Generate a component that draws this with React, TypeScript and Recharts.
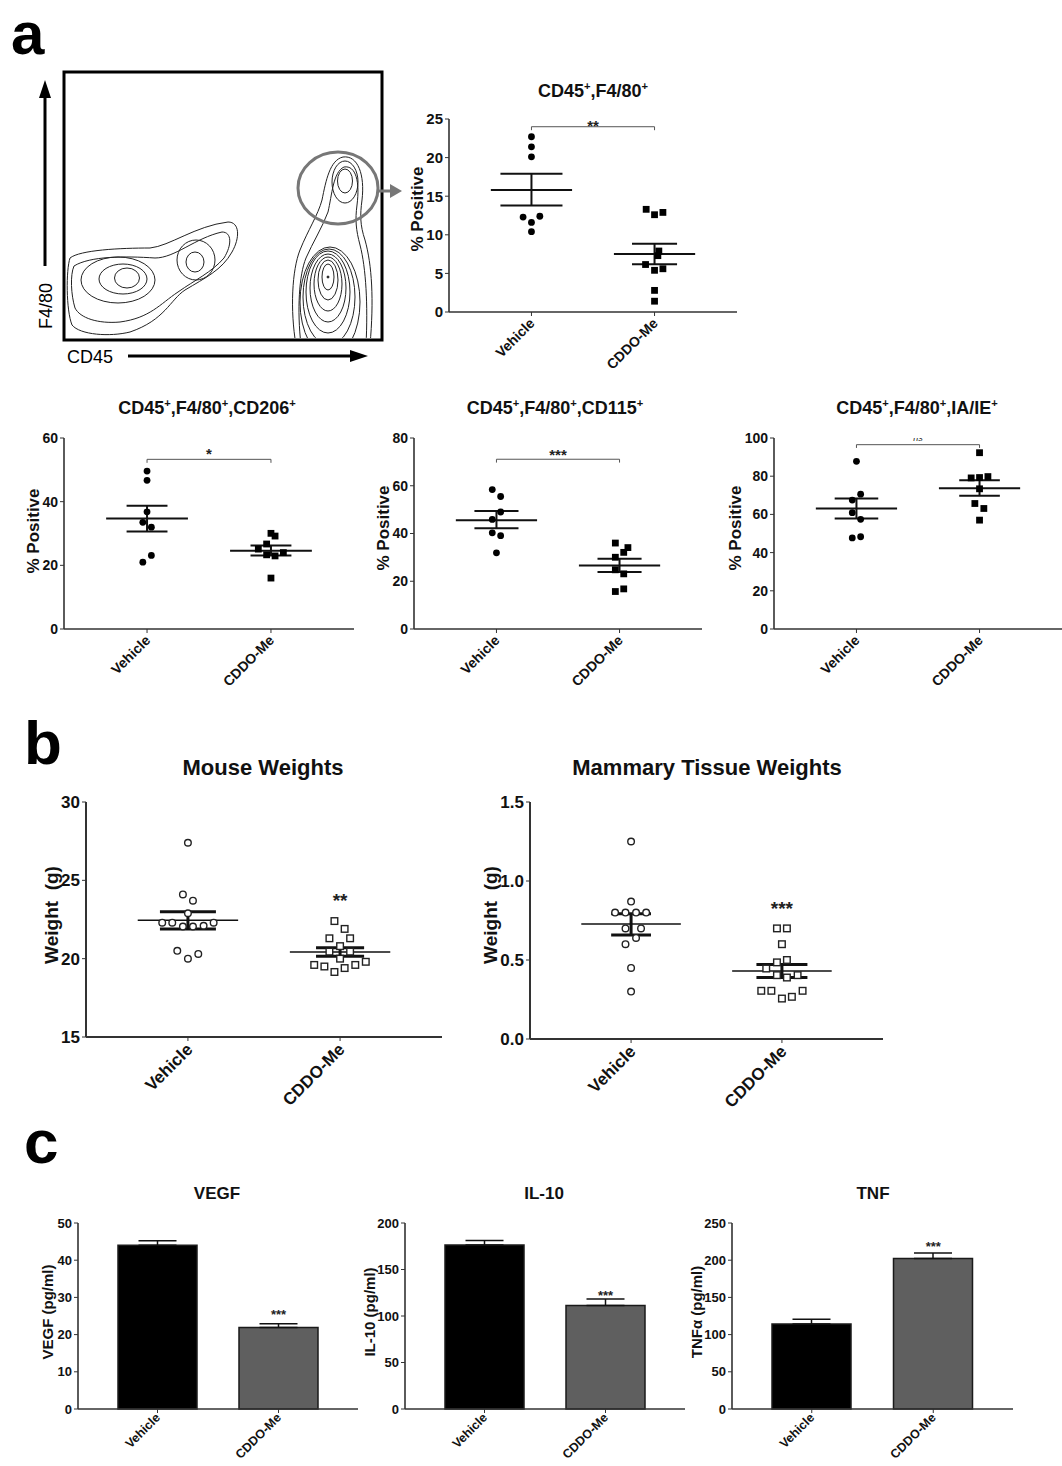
import React from 'react';
import {
  ScatterChart,
  Scatter,
  XAxis,
  YAxis,
  ReferenceLine,
  ComposedChart,
  Bar,
  ErrorBar,
  Cell,
} from 'recharts';

const FONT = '"Liberation Sans", Arial, Helvetica, sans-serif';
const GROUPS = ['Vehicle', 'CDDO-Me'];

// ---------- a: CD45+,F4/80+ ----------
const f480Ticks = [0, 5, 10, 15, 20, 25];
const f480Veh = [22.7, 21.4, 20.1, 12.3, 12.4, 11.6, 10.4];
const f480VehJit = [0, 0, 0, -0.068, 0.068, 0, 0];
const f480Cddo = [13.3, 12.6, 12.9, 7.9, 7.3, 6.15, 5.4, 5.6, 2.8, 1.4];
const f480CddoJit = [-0.068, 0, 0.068, 0.035, 0.027, -0.073, 0, 0.068, 0, 0];
const f480Mean = [15.8, 7.5];
const f480Hi = [17.9, 8.85];
const f480Lo = [13.8, 6.2];

// ---------- a: CD206 ----------
const cd206Ticks = [0, 20, 40, 60];
const cd206Veh = [49.6, 46.7, 36.8, 33.5, 32.0, 23.1, 21.0];
const cd206VehJit = [0, 0, 0, -0.034, 0.035, 0.035, -0.034];
const cd206Cddo = [30.05, 29.2, 26.7, 25.1, 24.0, 23.3, 22.96, 16.0];
const cd206CddoJit = [0, 0.033, -0.035, -0.102, 0.1, -0.035, 0.033, 0];
const cd206Mean = [34.7, 24.6];
const cd206Hi = [38.7, 26.2];
const cd206Lo = [30.6, 23.1];

// ---------- a: CD115 ----------
const cd115Ticks = [0, 20, 40, 60, 80];
const cd115Veh = [58.4, 55.5, 49.0, 45.9, 40.3, 39.1, 31.9];
const cd115VehJit = [-0.034, 0.034, 0.034, -0.034, -0.034, 0.034, 0];
const cd115Cddo = [36.0, 34.1, 32.1, 30.05, 24.8, 23.1, 16.8, 15.7];
const cd115CddoJit = [-0.034, 0.068, 0.034, -0.034, -0.034, 0.034, 0.034, -0.034];
const cd115Mean = [45.6, 26.6];
const cd115Hi = [49.4, 29.4];
const cd115Lo = [42.2, 23.9];

// ---------- a: IA/IE ----------
const iaTicks = [0, 20, 40, 60, 80, 100];
const iaVeh = [87.8, 70.6, 67.5, 60.9, 57.4, 47.7, 48.3];
const iaVehJit = [0, 0.034, -0.034, -0.034, 0.034, -0.034, 0.034];
const iaCddo = [92.3, 79.1, 79.3, 79.8, 73.4, 65.7, 63.1, 57.0];
const iaCddoJit = [0, -0.068, 0, 0.068, 0, -0.038, 0.035, 0];
const iaMean = [63.1, 73.7];
const iaHi = [68.3, 77.9];
const iaLo = [57.9, 69.7];

// ---------- b: Mouse weights ----------
const mouseTicks = [15, 20, 25, 30];
const mouseVeh = [27.4, 24.1, 23.7, 22.9, 22.3, 22.3, 22.05, 22.05, 22.1, 22.3, 20.5, 20.3, 20.0];
const mouseVehJit = [0, -0.033, 0.033, 0, -0.169, -0.103, -0.033, 0.033, 0.103, 0.169, -0.07, 0.068, 0];
const mouseCddo = [22.4, 21.9, 21.3, 21.3, 20.8, 20.45, 20.45, 20.0, 19.6, 19.5, 19.15, 19.4, 19.6, 19.8];
const mouseCddoJit = [-0.037, 0.03, -0.07, 0.066, 0, -0.07, 0.066, 0, -0.17, -0.103, -0.037, 0.03, 0.1, 0.169];
const mouseMean = [22.45, 20.43];
const mouseHi = [23.0, 20.7];
const mouseLo = [21.9, 20.15];

// ---------- b: Mammary tissue weights ----------
const mamTicks = [0, 0.5, 1.0, 1.5];
const mamVeh = [1.25, 0.87, 0.8, 0.8, 0.8, 0.8, 0.7, 0.7, 0.64, 0.6, 0.45, 0.3];
const mamVehJit = [0, 0, -0.106, -0.037, 0.033, 0.1, -0.037, 0.066, 0.033, -0.037, 0, 0];
const mamCddo = [0.7, 0.7, 0.6, 0.485, 0.5, 0.446, 0.404, 0.389, 0.404, 0.305, 0.305, 0.256, 0.267, 0.305];
const mamCddoJit = [-0.033, 0.033, 0, -0.033, 0.033, -0.104, -0.033, 0.033, 0.104, -0.137, -0.07, 0, 0.066, 0.137];
const mamMean = [0.728, 0.43];
const mamHi = [0.793, 0.472];
const mamLo = [0.658, 0.389];

// ---------- c: cytokines ----------
const vegfTicks = [0, 10, 20, 30, 40, 50];
const vegfMean = [44.0, 21.9];
const vegfSem = [1.2, 1.0];
const il10Ticks = [0, 50, 100, 150, 200];
const il10Mean = [176.4, 111.4];
const il10Sem = [4.7, 6.8];
const tnfTicks = [0, 50, 100, 150, 200, 250];
const tnfMean = [114.3, 202.2];
const tnfSem = [6.2, 7.6];

// significance marks (value coordinates)
const f480Sig = { y: 24.0, drop: 0.45, label: '**', labelY: 24.6 };
const cd206Sig = { y: 53.3, drop: 1.1, label: '*', labelY: 56.1 };
const cd115Sig = { y: 71.1, drop: 1.4, label: '***', labelY: 74.4 };
const iaSig = { y: 96.5, drop: 1.7, label: 'ns', labelY: 99.6 };
const mouseStar = { label: '**', y: 24.0 };
const mamStar = { label: '***', y: 0.855 };
const vegfStar = [null, 26.2];
const il10Star = [null, 125];
const tnfStar = [null, 222];

const XH = 30; // x-axis band height

// ---------- helpers ----------
const CatTick = (props: any) => {
  const { x, y, payload, fontSize = 13, lift = 1 } = props;
  const v = payload.value;
  const label = typeof v === 'number' ? GROUPS[Math.round(v)] : v;
  return (
    <g transform={`translate(${x - 3},${y - lift}) rotate(-45)`}>
      <text x={0} y={0} dy="0.72em" textAnchor="end" fontSize={fontSize} fontWeight={700} fontFamily={FONT} fill="#111">
        {label}
      </text>
    </g>
  );
};

const makeTextShape = (label: string, fs: number, italic = false) => (p: any) => {
  if (p == null || p.cy == null || isNaN(p.cy)) return <g />;
  const base = italic ? 0.27 : 0.57;
  return (
    <text
      x={p.cx}
      y={p.cy + base * fs}
      textAnchor="middle"
      fontSize={fs}
      fontWeight={italic ? 400 : 700}
      fontStyle={italic ? 'italic' : 'normal'}
      fontFamily={FONT}
      fill="#222"
    >
      {label}
    </text>
  );
};

type Grp = { values: number[]; jitter: number[]; mean: number; hi: number; lo: number; cap: number };

type PanelProps = {
  left: number;
  top: number;
  width: number;
  height: number;
  margin: { top: number; right: number; bottom: number; left: number };
  yWidth: number;
  yDomain: [number, number];
  yTicks: number[];
  groups: Grp[];
  open?: boolean;
  tickFont: number;
  catFont: number;
  markerR: number;
  meanW: number;
  capW: number;
  sig?: { y: number; drop: number; label: string; labelY: number };
  sigFont?: number;
  star?: { label: string; y: number };
  starFont?: number;
  fmt?: (v: number) => string;
  axisW?: number;
};

function ScatterPanel(p: PanelProps) {
  const series = p.groups.map((g, gi) => g.values.map((v, i) => ({ x: gi + g.jitter[i], y: v })));
  const axisStroke = { stroke: '#333', strokeWidth: p.axisW ?? 1.6 };
  const circle = (s: any) =>
    p.open ? (
      <circle cx={s.cx} cy={s.cy} r={p.markerR} fill="#fff" stroke="#222" strokeWidth={1.4} />
    ) : (
      <circle cx={s.cx} cy={s.cy} r={p.markerR} fill="#000" />
    );
  const square = (s: any) =>
    p.open ? (
      <rect x={s.cx - p.markerR} y={s.cy - p.markerR} width={p.markerR * 2} height={p.markerR * 2} fill="#fff" stroke="#222" strokeWidth={1.4} />
    ) : (
      <rect x={s.cx - p.markerR} y={s.cy - p.markerR} width={p.markerR * 2} height={p.markerR * 2} fill="#000" />
    );
  const lines: React.ReactNode[] = [];
  p.groups.forEach((g, gi) => {
    lines.push(
      <ReferenceLine key={`m${gi}`} ifOverflow="visible" segment={[{ x: gi - 0.33, y: g.mean }, { x: gi + 0.33, y: g.mean }]} stroke="#111" strokeWidth={p.meanW} />,
      <ReferenceLine key={`h${gi}`} ifOverflow="visible" segment={[{ x: gi - g.cap, y: g.hi }, { x: gi + g.cap, y: g.hi }]} stroke="#111" strokeWidth={p.capW} />,
      <ReferenceLine key={`l${gi}`} ifOverflow="visible" segment={[{ x: gi - g.cap, y: g.lo }, { x: gi + g.cap, y: g.lo }]} stroke="#111" strokeWidth={p.capW} />,
      <ReferenceLine key={`v${gi}`} ifOverflow="visible" segment={[{ x: gi, y: g.lo }, { x: gi, y: g.hi }]} stroke="#111" strokeWidth={p.capW} />
    );
  });
  if (p.sig) {
    const s = p.sig;
    lines.push(
      <ReferenceLine key="b0" ifOverflow="visible" segment={[{ x: 0, y: s.y }, { x: 1, y: s.y }]} stroke="#555" strokeWidth={1} />,
      <ReferenceLine key="b1" ifOverflow="visible" segment={[{ x: 0, y: s.y }, { x: 0, y: s.y - s.drop }]} stroke="#555" strokeWidth={1} />,
      <ReferenceLine key="b2" ifOverflow="visible" segment={[{ x: 1, y: s.y }, { x: 1, y: s.y - s.drop }]} stroke="#555" strokeWidth={1} />
    );
  }
  return (
    <div style={{ position: 'absolute', left: p.left, top: p.top }}>
      <ScatterChart width={p.width} height={p.height} margin={p.margin}>
        <XAxis
          type="number"
          dataKey="x"
          domain={[-0.67, 1.67]}
          ticks={[0, 1]}
          interval={0}
          height={XH}
          allowDataOverflow
          tickSize={4}
          axisLine={axisStroke}
          tickLine={{ stroke: '#333' }}
          tick={<CatTick fontSize={p.catFont} />}
        />
        <YAxis
          type="number"
          dataKey="y"
          domain={p.yDomain}
          ticks={p.yTicks}
          interval={0}
          allowDataOverflow
          width={p.yWidth}
          tickSize={4}
          axisLine={axisStroke}
          tickLine={{ stroke: '#333' }}
          tick={{ fontSize: p.tickFont, fontWeight: 700, fill: '#111', fontFamily: FONT }}
          tickFormatter={p.fmt}
        />
        {lines}
        <Scatter data={series[0]} shape={circle} isAnimationActive={false} />
        <Scatter data={series[1]} shape={square} isAnimationActive={false} />
        {p.sig && (
          <Scatter
            data={[{ x: 0.5, y: p.sig.labelY }]}
            shape={makeTextShape(p.sig.label, p.sig.label === 'ns' ? 9 : p.sigFont ?? 15, p.sig.label === 'ns')}
            isAnimationActive={false}
          />
        )}
        {p.star && (
          <Scatter data={[{ x: 1, y: p.star.y }]} shape={makeTextShape(p.star.label, p.starFont ?? 19)} isAnimationActive={false} />
        )}
      </ScatterChart>
    </div>
  );
}

type BarProps = {
  left: number;
  top: number;
  width: number;
  height: number;
  margin: { top: number; right: number; bottom: number; left: number };
  yWidth: number;
  yTicks: number[];
  means: number[];
  sems: number[];
  stars: (number | null)[];
};

function BarPanel(p: BarProps) {
  const data = GROUPS.map((g, i) => ({ name: g, value: p.means[i], err: [0, p.sems[i]], star: p.stars[i] }));
  const fills = ['#000000', '#5f5f5f'];
  return (
    <div style={{ position: 'absolute', left: p.left, top: p.top }}>
      <ComposedChart width={p.width} height={p.height} margin={p.margin} data={data}>
        <XAxis
          dataKey="name"
          type="category"
          padding={{ left: 19, right: 19 }}
          interval={0}
          height={XH}
          tickSize={4}
          axisLine={{ stroke: '#333', strokeWidth: 1.6 }}
          tickLine={{ stroke: '#333' }}
          tick={<CatTick fontSize={12.5} lift={3} />}
        />
        <YAxis
          type="number"
          domain={[p.yTicks[0], p.yTicks[p.yTicks.length - 1]]}
          ticks={p.yTicks}
          interval={0}
          width={p.yWidth}
          tickSize={4}
          axisLine={{ stroke: '#333', strokeWidth: 1.6 }}
          tickLine={{ stroke: '#333' }}
          tick={{ fontSize: 13, fontWeight: 700, fill: '#111', fontFamily: FONT }}
        />
        <Bar dataKey="value" barSize={79} stroke="#1a1a1a" strokeWidth={1.5} isAnimationActive={false}>
          {data.map((d, i) => (
            <Cell key={d.name} fill={fills[i]} />
          ))}
          <ErrorBar dataKey="err" width={19} stroke="#111" strokeWidth={1.5} direction="y" />
        </Bar>
        <Scatter dataKey="star" shape={makeTextShape('***', 13)} isAnimationActive={false} />
      </ComposedChart>
    </div>
  );
}

function grp(values: number[], jitter: number[], mean: number[], hi: number[], lo: number[], caps: number[], i: number): Grp {
  return { values, jitter, mean: mean[i], hi: hi[i], lo: lo[i], cap: caps[i] };
}

// ---------- overlay: panel letters, titles, axis labels, flow plot ----------
const Title = ({ x, y, parts, fs }: { x: number; y: number; parts: string[]; fs: number }) => (
  <text x={x} y={y} textAnchor="middle" fontFamily={FONT} fontWeight={700} fontSize={fs} fill="#111">
    {parts.map((t, i) =>
      t === '+' ? (
        <tspan key={i} dy={-7} fontSize={fs * 0.62}>
          +
        </tspan>
      ) : (
        <tspan key={i} dy={i > 0 && parts[i - 1] === '+' ? 7 : 0}>
          {t}
        </tspan>
      )
    )}
  </text>
);

const YLabel = ({ x, y, text, fs }: { x: number; y: number; text: string; fs: number }) => (
  <text
    transform={`translate(${x},${y}) rotate(-90)`}
    textAnchor="middle"
    dy="0.36em"
    fontFamily={FONT}
    fontWeight={700}
    fontSize={fs}
    fill="#111"
    style={{ whiteSpace: 'pre' }}
  >
    {text}
  </text>
);

// flow-cytometry contour sketch (illustration)
const leftLobes: [number, number, number, number][] = [
  [118, 280, 37, 23],
  [123, 279, 24, 15],
  [127, 278, 12.5, 10],
  [196, 260, 19, 20],
  [195, 262, 9, 10],
];
const rightStack: [number, number, number, number][] = [
  [328, 277, 6, 13],
  [328, 280, 10, 20],
  [328, 284, 14, 27],
  [328, 288, 18, 34],
  [328, 292, 22, 41],
  [329, 297, 26, 48],
  [330, 302, 30, 55],
  [345, 181, 7.5, 12],
  [345, 182, 13, 21],
];

function FlowPlot() {
  return (
    <g>
      <defs>
        <clipPath id="flowclip">
          <rect x={66} y={74} width={314} height={264} />
        </clipPath>
      </defs>
      <g clipPath="url(#flowclip)" fill="none" stroke="#222" strokeWidth={1}>
        <path d="M 70,258 C 80,250 120,248 150,248 C 170,246 195,226 228,222 C 240,222 240,238 232,252 C 222,270 205,278 185,290 C 170,300 165,320 130,332 C 110,337 80,335 72,325 C 66,310 66,270 70,258 Z" />
        <path d="M 74,266 C 90,256 125,256 155,258 C 175,258 195,238 222,232 C 232,232 232,245 224,258 C 212,272 195,280 178,292 C 160,304 150,318 120,322 C 98,324 80,318 75,308 C 71,295 70,275 74,266 Z" />
        {leftLobes.map(([cx, cy, rx, ry], i) => (
          <ellipse key={`l${i}`} cx={cx} cy={cy} rx={rx} ry={ry} />
        ))}
        <path d="M 296,345 C 290,310 292,270 300,250 C 308,230 318,215 322,200 C 326,180 330,160 343,157 C 358,155 365,175 362,200 C 360,215 360,225 365,240 C 372,265 374,300 370,345" />
        <path d="M 301,345 C 297,310 299,275 306,258 C 313,242 322,228 328,212 C 332,195 333,172 344,167 C 356,165 360,182 357,205 C 355,220 356,230 360,245 C 366,268 368,305 366,345" />
        {rightStack.map(([cx, cy, rx, ry], i) => (
          <ellipse key={`r${i}`} cx={cx} cy={cy} rx={rx} ry={ry} />
        ))}
        <circle cx={328} cy={277} r={1} fill="#222" />
      </g>
      <rect x={64} y={72} width={318} height={268} fill="none" stroke="#000" strokeWidth={3} />
      <ellipse cx={338} cy={188} rx={40} ry={36} fill="none" stroke="#777" strokeWidth={3} />
      <line x1={378} y1={191} x2={392} y2={191} stroke="#777" strokeWidth={3} />
      <polygon points="390,184 402,191 390,198" fill="#777" />
      <line x1={45} y1={266} x2={45} y2={96} stroke="#000" strokeWidth={3} />
      <polygon points="39,98 45,80 51,98" fill="#000" />
      <line x1={128} y1={356} x2={352} y2={356} stroke="#000" strokeWidth={3} />
      <polygon points="350,350 368,356 350,362" fill="#000" />
      <text x={67} y={363} fontFamily={FONT} fontSize={18} fill="#000">
        CD45
      </text>
      <text transform="translate(52,306) rotate(-90)" textAnchor="middle" fontFamily={FONT} fontSize={18} fill="#000">
        F4/80
      </text>
    </g>
  );
}

function Overlay() {
  return (
    <svg width={1062} height={1466} style={{ position: 'absolute', left: 0, top: 0 }}>
      <text x={11} y={54} fontFamily={FONT} fontWeight={700} fontSize={60} fill="#000">
        a
      </text>
      <text x={24} y={764} fontFamily={FONT} fontWeight={700} fontSize={62} fill="#000">
        b
      </text>
      <text x={24} y={1163} fontFamily={FONT} fontWeight={700} fontSize={62} fill="#000">
        c
      </text>
      <FlowPlot />
      <Title x={593} y={97} fs={18} parts={['CD45', '+', ',F4/80', '+']} />
      <Title x={207} y={414} fs={18} parts={['CD45', '+', ',F4/80', '+', ',CD206', '+']} />
      <Title x={555} y={414} fs={18} parts={['CD45', '+', ',F4/80', '+', ',CD115', '+']} />
      <Title x={917} y={414} fs={18} parts={['CD45', '+', ',F4/80', '+', ',IA/IE', '+']} />
      <Title x={263} y={775} fs={22} parts={['Mouse Weights']} />
      <Title x={707} y={775} fs={22} parts={['Mammary Tissue Weights']} />
      <Title x={217} y={1199} fs={17} parts={['VEGF']} />
      <Title x={544} y={1199} fs={17} parts={['IL-10']} />
      <Title x={873} y={1199} fs={17} parts={['TNF']} />
      <YLabel x={417} y={209} text="% Positive" fs={17} />
      <YLabel x={33} y={531} text="% Positive" fs={17} />
      <YLabel x={383} y={528} text="% Positive" fs={17} />
      <YLabel x={735} y={528} text="% Positive" fs={17} />
      <YLabel x={51} y={915} text="Weight  (g)" fs={19} />
      <YLabel x={490} y={915} text="Weight  (g)" fs={19} />
      <YLabel x={48} y={1312} text="VEGF (pg/ml)" fs={15} />
      <YLabel x={370} y={1312} text="IL-10 (pg/ml)" fs={15} />
      <YLabel x={697} y={1312} text="TNFα (pg/ml)" fs={15} />
    </svg>
  );
}

export default function App() {
  const rowA = { tickFont: 14, catFont: 14, markerR: 3.4, meanW: 2, capW: 2 };
  return (
    <div style={{ position: 'absolute', left: 0, top: 0, width: 1062, height: 1466, background: '#fff', fontFamily: FONT, overflow: 'hidden' }}>
      <Overlay />
      <ScatterPanel
        left={380}
        top={60}
        width={380}
        height={340}
        margin={{ top: 59, right: 23, bottom: 88 - XH, left: 0 }}
        yWidth={69}
        yDomain={[0, 25]}
        yTicks={f480Ticks}
        groups={[
          grp(f480Veh, f480VehJit, f480Mean, f480Hi, f480Lo, [0.252, 0.183], 0),
          grp(f480Cddo, f480CddoJit, f480Mean, f480Hi, f480Lo, [0.252, 0.183], 1),
        ]}
        sig={f480Sig}
        {...rowA}
        tickFont={15}
      />
      <ScatterPanel
        left={0}
        top={420}
        width={360}
        height={290}
        margin={{ top: 18, right: 6, bottom: 81 - XH, left: 0 }}
        yWidth={64}
        yDomain={[0, 60]}
        yTicks={cd206Ticks}
        groups={[
          grp(cd206Veh, cd206VehJit, cd206Mean, cd206Hi, cd206Lo, [0.165, 0.165], 0),
          grp(cd206Cddo, cd206CddoJit, cd206Mean, cd206Hi, cd206Lo, [0.165, 0.165], 1),
        ]}
        sig={cd206Sig}
        {...rowA}
      />
      <ScatterPanel
        left={360}
        top={420}
        width={360}
        height={290}
        margin={{ top: 18, right: 18, bottom: 81 - XH, left: 0 }}
        yWidth={54}
        yDomain={[0, 80]}
        yTicks={cd115Ticks}
        groups={[
          grp(cd115Veh, cd115VehJit, cd115Mean, cd115Hi, cd115Lo, [0.179, 0.179], 0),
          grp(cd115Cddo, cd115CddoJit, cd115Mean, cd115Hi, cd115Lo, [0.179, 0.179], 1),
        ]}
        sig={cd115Sig}
        {...rowA}
      />
      <ScatterPanel
        left={720}
        top={420}
        width={342}
        height={290}
        margin={{ top: 18, right: 0, bottom: 81 - XH, left: 0 }}
        yWidth={54}
        yDomain={[0, 100]}
        yTicks={iaTicks}
        groups={[
          grp(iaVeh, iaVehJit, iaMean, iaHi, iaLo, [0.177, 0.165], 0),
          grp(iaCddo, iaCddoJit, iaMean, iaHi, iaLo, [0.177, 0.165], 1),
        ]}
        sig={iaSig}
        {...rowA}
      />
      <ScatterPanel
        left={0}
        top={780}
        width={460}
        height={340}
        margin={{ top: 22, right: 18, bottom: 83 - XH, left: 0 }}
        yWidth={86}
        yDomain={[15, 30]}
        yTicks={mouseTicks}
        groups={[
          grp(mouseVeh, mouseVehJit, mouseMean, mouseHi, mouseLo, [0.184, 0.158], 0),
          grp(mouseCddo, mouseCddoJit, mouseMean, mouseHi, mouseLo, [0.184, 0.158], 1),
        ]}
        open
        star={mouseStar}
        starFont={19}
        tickFont={17}
        catFont={17}
        markerR={3.3}
        meanW={1.5}
        capW={3}
        axisW={2}
      />
      <ScatterPanel
        left={460}
        top={780}
        width={440}
        height={340}
        margin={{ top: 22, right: 17, bottom: 81 - XH, left: 0 }}
        yWidth={70}
        yDomain={[0, 1.5]}
        yTicks={mamTicks}
        fmt={(v) => v.toFixed(1)}
        groups={[
          grp(mamVeh, mamVehJit, mamMean, mamHi, mamLo, [0.132, 0.169], 0),
          grp(mamCddo, mamCddoJit, mamMean, mamHi, mamLo, [0.132, 0.169], 1),
        ]}
        open
        star={mamStar}
        starFont={19}
        tickFont={17}
        catFont={17}
        markerR={3.3}
        meanW={1.5}
        capW={3}
        axisW={2}
      />
      <BarPanel
        left={0}
        top={1210}
        width={370}
        height={256}
        margin={{ top: 13, right: 12, bottom: 57 - XH, left: 0 }}
        yWidth={78}
        yTicks={vegfTicks}
        means={vegfMean}
        sems={vegfSem}
        stars={vegfStar}
      />
      <BarPanel
        left={370}
        top={1210}
        width={330}
        height={256}
        margin={{ top: 13, right: 15, bottom: 57 - XH, left: 0 }}
        yWidth={35}
        yTicks={il10Ticks}
        means={il10Mean}
        sems={il10Sem}
        stars={il10Star}
      />
      <BarPanel
        left={700}
        top={1210}
        width={362}
        height={256}
        margin={{ top: 13, right: 49, bottom: 57 - XH, left: 0 }}
        yWidth={32}
        yTicks={tnfTicks}
        means={tnfMean}
        sems={tnfSem}
        stars={tnfStar}
      />
    </div>
  );
}
